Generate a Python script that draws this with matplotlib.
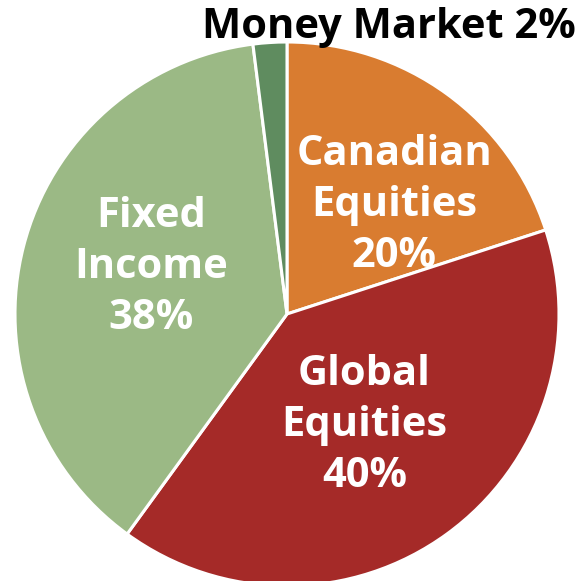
import matplotlib.pyplot as plt

labels = ["Canadian\nEquities", "Global\nEquities", "Fixed\nIncome", "Money Market"]
values = [20, 40, 38, 2]
colors = ["#D97C30", "#A52A28", "#9BB985", "#5F8C5F"]

# label centres in data units (pie radius = 1)
label_pos = [(0.395, 0.40), (0.285, -0.41), (-0.50, 0.17), (0.375, 1.053)]
label_colors = ["white", "white", "white", "black"]

fig = plt.figure(figsize=(5.82, 5.81), dpi=100)
W, H = 582, 581
cx, cy, r = 287, 314, 272
ax = fig.add_axes([(cx - r) / W, (H - cy - r) / H, 2 * r / W, 2 * r / H])

ax.pie(values, colors=colors, startangle=90, counterclock=False,
       wedgeprops=dict(edgecolor="white", linewidth=2.2))
ax.set_xlim(-1, 1)
ax.set_ylim(-1, 1)
ax.axis("off")

for lab, v, (x, y), c in zip(labels, values, label_pos, label_colors):
    if "\n" in lab:
        txt = f"{lab}\n{v}%"
    else:
        txt = f"{lab} {v}%"
    ax.text(x, y, txt, ha="center", va="center", color=c, fontsize=30,
            fontweight="bold", family="Open Sans", linespacing=1.32,
            clip_on=False)

fig.savefig("out.png", dpi=100)
